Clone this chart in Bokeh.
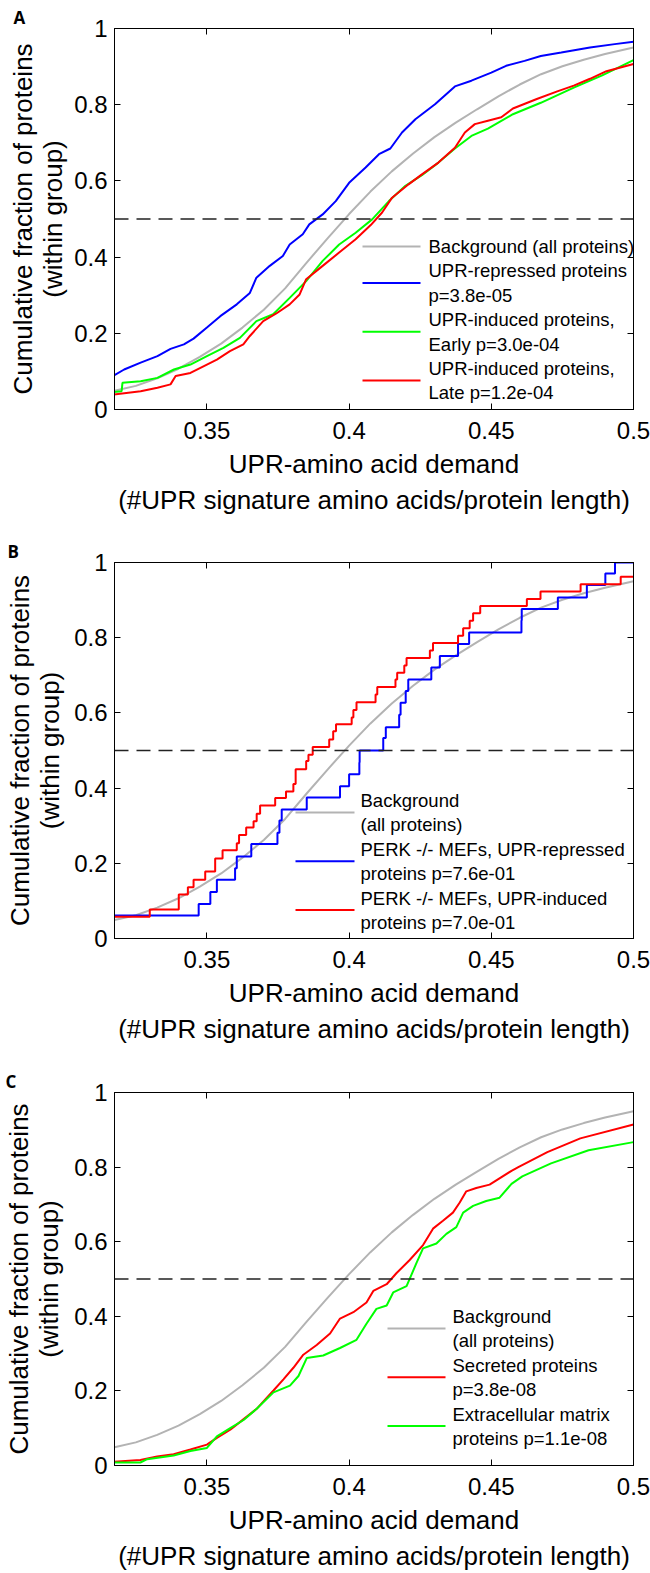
import numpy as np
from bokeh.plotting import figure
from bokeh.models import (Label, BoxAnnotation, Span, LinearAxis, FixedTicker,
                          CustomJSTickFormatter, Range1d)
from bokeh.layouts import column
from bokeh.embed import file_html
from bokeh.resources import INLINE

# ---------------- data ----------------
X_START, X_END = 0.3175, 0.5
X_TICKS = [0.35, 0.4, 0.45, 0.5]
Y_TICKS = [0, 0.2, 0.4, 0.6, 0.8, 1.0]
MEDIAN_LEVEL = 0.5

# background (all proteins) - same in every panel
bg_x = [0.3175, 0.325, 0.3325, 0.34, 0.3475, 0.355, 0.3625, 0.37, 0.3775, 0.385,
        0.3925, 0.4, 0.4075, 0.415, 0.4225, 0.43, 0.4375, 0.445, 0.4525, 0.46,
        0.4675, 0.475, 0.4825, 0.49, 0.5]
bg_y = [0.049, 0.062, 0.082, 0.107, 0.138, 0.173, 0.215, 0.262, 0.318, 0.385,
        0.450, 0.513, 0.572, 0.625, 0.672, 0.715, 0.753, 0.788, 0.822, 0.853,
        0.880, 0.901, 0.918, 0.933, 0.950]

# panel A
a_blue_x = [0.3172, 0.3209, 0.3267, 0.3326, 0.3372, 0.3419, 0.3453, 0.35, 0.3547, 0.3605,
            0.3651, 0.3674, 0.3721, 0.3767, 0.3791, 0.3837, 0.3860, 0.3907, 0.3953, 0.4,
            0.4058, 0.4105, 0.4145, 0.4186, 0.4233, 0.4302, 0.4372, 0.4430, 0.45, 0.4552,
            0.4617, 0.4674, 0.4746, 0.4847, 0.4934, 0.5]
a_blue_y = [0.089, 0.105, 0.123, 0.140, 0.159, 0.171, 0.186, 0.215, 0.245, 0.276,
            0.306, 0.346, 0.377, 0.403, 0.433, 0.460, 0.486, 0.512, 0.547, 0.595,
            0.635, 0.670, 0.685, 0.727, 0.762, 0.801, 0.848, 0.863, 0.884, 0.902,
            0.915, 0.928, 0.937, 0.950, 0.959, 0.965]
a_green_x = [0.3172, 0.3200, 0.3203, 0.3267, 0.3326, 0.3384, 0.3442, 0.35, 0.3558, 0.3616,
             0.3674, 0.3733, 0.3791, 0.3849, 0.3907, 0.3965, 0.4023, 0.4081, 0.4140, 0.4198,
             0.4256, 0.4314, 0.4372, 0.4430, 0.4488, 0.4576, 0.4674, 0.4790, 0.4890, 0.5]
a_green_y = [0.046, 0.048, 0.070, 0.074, 0.083, 0.105, 0.118, 0.140, 0.162, 0.188,
             0.232, 0.250, 0.293, 0.337, 0.390, 0.433, 0.464, 0.499, 0.547, 0.587,
             0.615, 0.648, 0.685, 0.718, 0.737, 0.775, 0.805, 0.845, 0.877, 0.917]
a_red_x = [0.3172, 0.3267, 0.3326, 0.3372, 0.3390, 0.3442, 0.35, 0.3535, 0.3581, 0.3628,
           0.3651, 0.3698, 0.3744, 0.3791, 0.3826, 0.3849, 0.3907, 0.3965, 0.4023, 0.4076,
           0.4116, 0.4151, 0.4209, 0.4256, 0.4314, 0.4372, 0.4407, 0.4442, 0.4488, 0.4535,
           0.4576, 0.4660, 0.4732, 0.4790, 0.4847, 0.4905, 0.5]
a_red_y = [0.039, 0.048, 0.057, 0.066, 0.088, 0.096, 0.118, 0.131, 0.153, 0.171,
           0.193, 0.232, 0.252, 0.276, 0.302, 0.342, 0.377, 0.412, 0.447, 0.484,
           0.517, 0.556, 0.591, 0.617, 0.648, 0.687, 0.727, 0.749, 0.758, 0.767,
           0.790, 0.815, 0.835, 0.850, 0.868, 0.888, 0.907]

# panel B (step ECDFs)
b_blue_x = [0.3175, 0.3471, 0.3512, 0.3535, 0.3599, 0.3605, 0.3656, 0.3748, 0.3755, 0.3763,
            0.3851, 0.3968, 0.4000, 0.4036, 0.4037, 0.4120, 0.4129, 0.4176, 0.4181, 0.4199,
            0.4208, 0.4289, 0.4319, 0.4383, 0.4422, 0.4606, 0.4607, 0.4734, 0.4836, 0.4901,
            0.4935, 0.5]
b_blue_y = [0.061, 0.092, 0.124, 0.156, 0.187, 0.218, 0.251, 0.281, 0.314, 0.343,
            0.375, 0.405, 0.437, 0.468, 0.500, 0.533, 0.562, 0.595, 0.627, 0.658,
            0.689, 0.721, 0.751, 0.783, 0.814, 0.846, 0.876, 0.907, 0.940, 0.971,
            1.0, 1.0]
b_red_x = [0.3175, 0.3299, 0.3401, 0.3433, 0.3453, 0.3494, 0.3529, 0.3555, 0.3605, 0.3613,
           0.3638, 0.3664, 0.3675, 0.3687, 0.3740, 0.3778, 0.3804, 0.3812, 0.3849, 0.3857,
           0.3872, 0.3930, 0.3944, 0.3954, 0.4009, 0.4015, 0.4026, 0.4093, 0.4099, 0.4163,
           0.4169, 0.4194, 0.4202, 0.4284, 0.4295, 0.4383, 0.4401, 0.4424, 0.4436, 0.4461,
           0.4625, 0.4673, 0.4814, 0.4955, 0.5]
b_red_y = [0.058, 0.077, 0.117, 0.136, 0.156, 0.178, 0.213, 0.235, 0.253, 0.275,
           0.295, 0.312, 0.332, 0.354, 0.374, 0.391, 0.411, 0.450, 0.472, 0.489,
           0.509, 0.529, 0.551, 0.570, 0.588, 0.608, 0.628, 0.649, 0.669, 0.689,
           0.707, 0.726, 0.746, 0.766, 0.786, 0.805, 0.825, 0.845, 0.865, 0.884,
           0.903, 0.923, 0.942, 0.962, 0.962]

# panel C
c_red_x = [0.3172, 0.3266, 0.3325, 0.3383, 0.3442, 0.35, 0.3535, 0.3582, 0.3617, 0.3675,
           0.3734, 0.3769, 0.3804, 0.3839, 0.3886, 0.3933, 0.3968, 0.4015, 0.4061, 0.4085,
           0.4132, 0.4167, 0.4213, 0.4260, 0.4295, 0.4330, 0.4365, 0.4389, 0.4412, 0.4447,
           0.4494, 0.4571, 0.4595, 0.4697, 0.4813, 0.5]
c_red_y = [0.010, 0.015, 0.024, 0.030, 0.043, 0.056, 0.074, 0.096, 0.117, 0.152,
           0.201, 0.231, 0.262, 0.297, 0.323, 0.354, 0.394, 0.411, 0.437, 0.468,
           0.486, 0.516, 0.551, 0.591, 0.635, 0.656, 0.678, 0.705, 0.735, 0.744,
           0.753, 0.790, 0.800, 0.840, 0.877, 0.914]
c_green_x = [0.3172, 0.3266, 0.3290, 0.3383, 0.3442, 0.35, 0.3535, 0.3582, 0.3629, 0.3675,
             0.3734, 0.3792, 0.3822, 0.3851, 0.3909, 0.3968, 0.4026, 0.4061, 0.4096, 0.4132,
             0.4155, 0.4202, 0.4237, 0.4260, 0.4307, 0.4342, 0.4377, 0.4401, 0.4436, 0.4482,
             0.4529, 0.4571, 0.4609, 0.4710, 0.4842, 0.5]
c_green_y = [0.008, 0.008, 0.017, 0.027, 0.039, 0.047, 0.078, 0.100, 0.122, 0.152,
             0.196, 0.214, 0.240, 0.288, 0.295, 0.315, 0.337, 0.380, 0.420, 0.429,
             0.464, 0.481, 0.543, 0.582, 0.595, 0.621, 0.639, 0.678, 0.696, 0.709,
             0.718, 0.755, 0.775, 0.810, 0.845, 0.867]

LABELS_A = [["Background (all proteins)"],
            ["UPR-repressed proteins", "p=3.8e-05"],
            ["UPR-induced proteins,", "Early p=3.0e-04"],
            ["UPR-induced proteins,", "Late p=1.2e-04"]]
LABELS_B = [["Background", "(all proteins)"],
            ["PERK -/- MEFs, UPR-repressed", "proteins p=7.6e-01"],
            ["PERK -/- MEFs, UPR-induced", "proteins p=7.0e-01"]]
LABELS_C = [["Background", "(all proteins)"],
            ["Secreted proteins", "p=3.8e-08"],
            ["Extracellular matrix", "proteins p=1.1e-08"]]

XLABEL = "UPR-amino acid demand\n(#UPR signature amino acids/protein length)"
YLABEL = "Cumulative fraction of proteins\n(within group)"

GRAY, BLUE, GREEN, RED = "#b3b3b3", "#0000ff", "#00ff00", "#ff0000"
FONT = "Liberation Sans"
FIG_W = 650


def fmt():
    return CustomJSTickFormatter(code="return String(parseFloat(tick.toFixed(3)));")


def hidden_axis(ticks):
    return LinearAxis(ticker=FixedTicker(ticks=ticks), major_label_text_font_size="0px",
                      major_label_text_color=None, major_tick_in=6, major_tick_out=0,
                      minor_tick_line_color=None, major_label_standoff=0,
                      axis_line_color="black")


def make_panel(letter, fig_h, top, left, frame_w, frame_h, ylab_standoff, leg):
    p = figure(width=FIG_W, height=fig_h, x_range=Range1d(X_START, X_END),
               y_range=Range1d(0, 1), output_backend="svg", toolbar_location=None,
               min_border_left=left, min_border_right=FIG_W - left - frame_w,
               min_border_top=top, min_border_bottom=fig_h - top - frame_h)
    p.grid.visible = False
    p.outline_line_color = "black"
    p.outline_line_width = 1
    p.background_fill_color = "white"
    p.border_fill_color = "white"

    # panel letter as the title
    p.title.text = letter[0]
    p.title.text_font = "Open Sans"
    p.title.text_font_style = "bold"
    p.title.text_font_size = "17px"
    p.title.text_color = "black"
    p.title.align = "left"
    p.title.offset = letter[1]
    p.title.standoff = 0

    for ax in (p.xaxis[0], p.yaxis[0]):
        ax.major_tick_in = 6
        ax.major_tick_out = 0
        ax.minor_tick_line_color = None
        ax.axis_line_color = "black"
        ax.major_tick_line_color = "black"
        ax.major_label_text_font = FONT
        ax.major_label_text_font_size = "24px"
        ax.major_label_text_color = "black"
        ax.formatter = fmt()
        ax.axis_label_text_font = FONT
        ax.axis_label_text_font_size = "26px"
        ax.axis_label_text_font_style = "normal"
        ax.axis_label_text_color = "black"
    p.xaxis[0].ticker = FixedTicker(ticks=X_TICKS)
    p.yaxis[0].ticker = FixedTicker(ticks=Y_TICKS)
    p.xaxis[0].major_label_standoff = 12
    p.yaxis[0].major_label_standoff = 7
    p.xaxis[0].axis_label = XLABEL
    p.xaxis[0].axis_label_standoff = 7
    p.xaxis[0].axis_label_text_line_height = 1.2
    p.yaxis[0].axis_label = YLABEL
    p.yaxis[0].axis_label_standoff = ylab_standoff
    p.yaxis[0].axis_label_text_line_height = 1.0

    p.add_layout(hidden_axis(X_TICKS), "above")
    p.add_layout(hidden_axis(Y_TICKS), "right")

    p.add_layout(Span(location=MEDIAN_LEVEL, dimension="width", line_color="#222222",
                      line_width=1.5, line_dash="14 8"))

    # legend
    sx0, sx1, tx, ty0, entries = leg
    ty = ty0
    for color, lines in entries:
        ly_line = ty if len(lines) == 1 else ty + 12
        p.add_layout(BoxAnnotation(left=sx0, right=sx1, top=ly_line - 1, bottom=ly_line + 1,
                                   left_units="canvas", right_units="canvas",
                                   top_units="canvas", bottom_units="canvas",
                                   fill_color=color, fill_alpha=1, line_color=None))
        for t in lines:
            p.add_layout(Label(x=tx, y=ty, x_units="canvas", y_units="canvas", text=t,
                               text_font=FONT, text_font_size="18.5px", text_align="left",
                               text_baseline="middle", text_color="black"))
            ty += 24.4
    return p


pA = make_panel(("A", -101), 537, 28, 108, 527, 381, 3,
                (362, 420, 428, 246,
                 [(GRAY, LABELS_A[0]), (BLUE, LABELS_A[1]), (GREEN, LABELS_A[2]), (RED, LABELS_A[3])]))
pA.line(bg_x, bg_y, line_color=GRAY, line_width=2)
pA.line(a_blue_x, a_blue_y, line_color=BLUE, line_width=2)
pA.line(a_green_x, a_green_y, line_color=GREEN, line_width=2)
pA.line(a_red_x, a_red_y, line_color=RED, line_width=2)

pB = make_panel(("B", -107), 530, 20, 111, 522, 381, 6,
                (295, 354, 360, 263,
                 [(GRAY, LABELS_B[0]), (BLUE, LABELS_B[1]), (RED, LABELS_B[2])]))
pB.line(bg_x, bg_y, line_color=GRAY, line_width=2)
pB.step(b_blue_x, b_blue_y, mode="after", line_color=BLUE, line_width=2)
pB.step(b_red_x, b_red_y, mode="after", line_color=RED, line_width=2)

pC = make_panel(("C", -109), 506, 20, 114, 521, 380, 7,
                (387, 445, 452, 249,
                 [(GRAY, LABELS_C[0]), (RED, LABELS_C[1]), (GREEN, LABELS_C[2])]))
pC.line(bg_x, bg_y, line_color=GRAY, line_width=2)
pC.line(c_red_x, c_red_y, line_color=RED, line_width=2)
pC.line(c_green_x, c_green_y, line_color=GREEN, line_width=2)

layout = column(pA, pB, pC, spacing=0)
open("out.html", "w").write(file_html(layout, INLINE))
